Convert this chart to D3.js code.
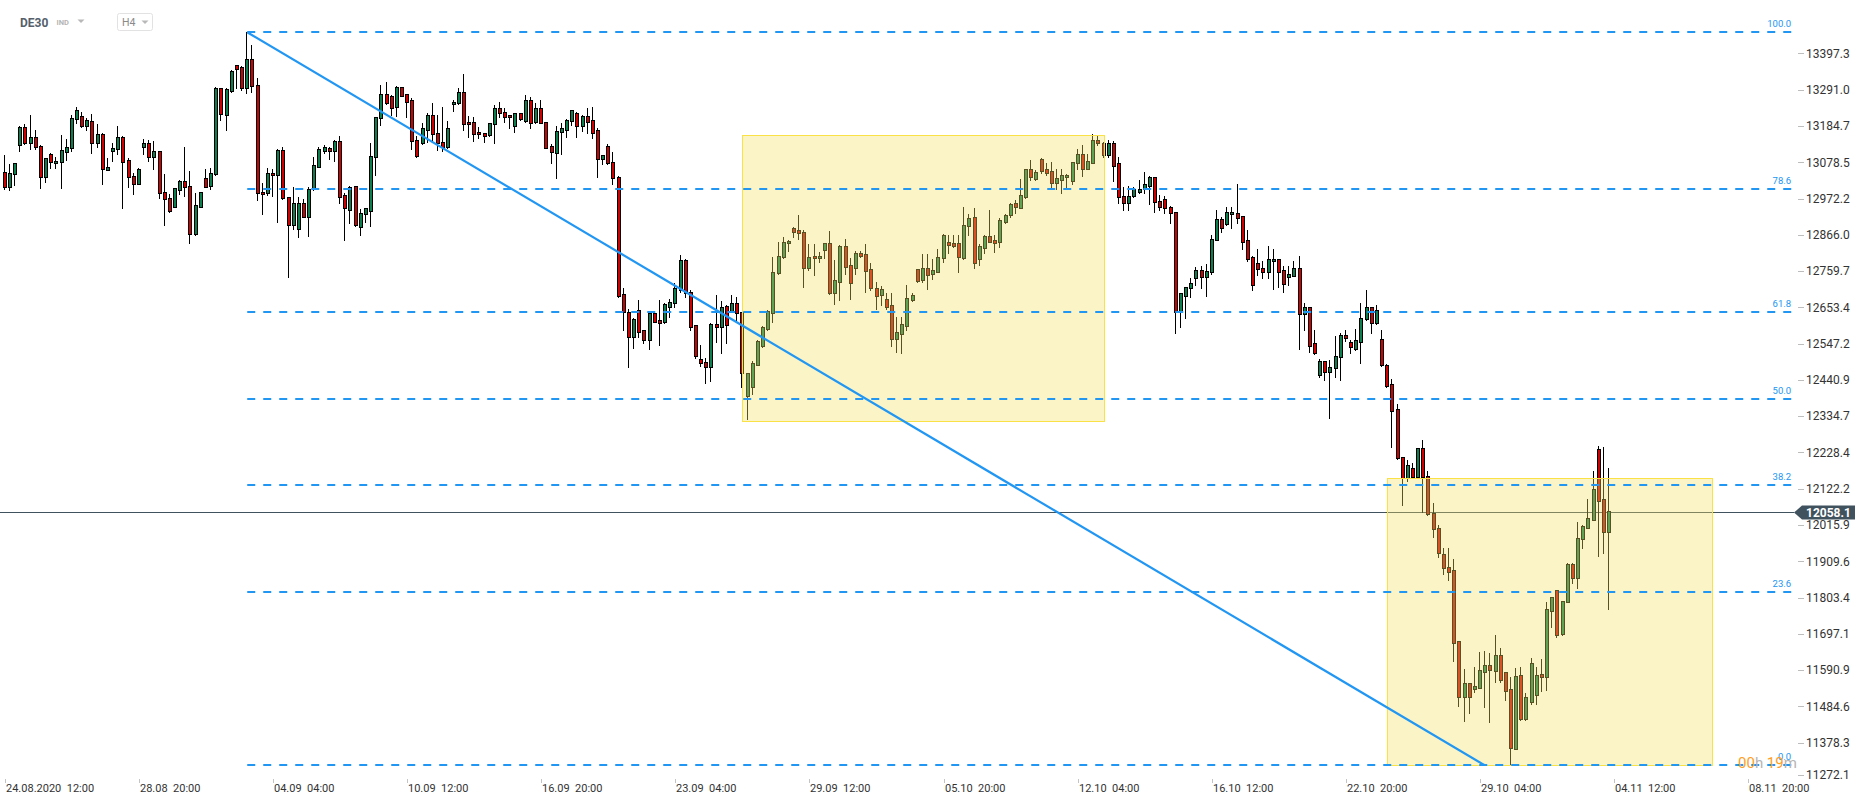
<!DOCTYPE html>
<html><head><meta charset="utf-8">
<script src="https://cdn.jsdelivr.net/npm/d3@7"></script>
<style>
html,body{margin:0;padding:0;background:#fff;}
svg{display:block;font-family:Roboto,"Noto Sans",sans-serif;}
</style></head><body>
<svg id="chart" width="1866" height="805"></svg>
<script>
// ---- DATA (DE30, H4 candles, index 0 = 24.08.2020 12:00) ----
const open = [
13049,13007,13043,13128,13181,13134,13151,13126,13034,13104,
13075,13080,13109,13119,13204,13214,13185,13199,13134,13161,
13057,13112,13116,13153,13085,13038,13016,13124,13135,13095,
13111,12990,12973,12948,12997,13023,13009,12867,12948,13031,
13009,13043,13295,13216,13288,13362,13357,13295,13380,13305,
12990,12987,13046,13040,13114,12976,12896,12882,12958,12919,
12999,13065,13112,13119,13112,13142,12982,12940,13009,12888,
12926,12936,13095,13209,13278,13272,13241,13298,13277,13260,
13145,13134,13173,13217,13163,13137,13124,13248,13253,13283,
13195,13195,13166,13163,13158,13189,13236,13226,13217,13185,
13222,13200,13262,13197,13236,13195,13126,13106,13168,13173,
13200,13224,13184,13214,13202,13173,13087,13126,13078,13034,
12692,12641,12568,12646,12587,12558,12636,12616,12611,12655,
12667,12704,12792,12697,12602,12503,12492,12478,12606,12597,
12657,12644,12665,12639,12395,12420,12486,12540,12589,12636,
12753,12802,12841,12885,12880,12873,12768,12804,12797,12821,
12841,12694,12728,12833,12777,12768,12814,12809,12765,12709,
12691,12678,12660,12560,12575,12600,12675,12765,12733,12768,
12750,12758,12797,12846,12841,12841,12797,12892,12917,12794,
12828,12862,12851,12846,12904,12924,12958,12945,12978,13058,
13029,13088,13058,13053,13017,13026,13034,13024,13075,13102,
13060,13077,13143,13134,13101,13136,13075,12979,12958,12980,
12992,12999,13010,13034,12965,12972,12946,12932,12639,12688,
12711,12738,12763,12743,12758,12852,12911,12897,12926,12929,
12921,12850,12800,12782,12768,12758,12789,12795,12763,12743,
12746,12770,12633,12653,12548,12455,12496,12465,12475,12509,
12572,12551,12531,12553,12618,12653,12608,12562,12486,12428,
12355,12214,12154,12182,12157,12240,12160,12050,12006,11930,
11892,11884,11676,11513,11552,11537,11539,11586,11606,11589,
11635,11584,11535,11360,11576,11447,11498,11518,11579,11572,
11765,11825,11697,11791,11903,11862,11974,12008,12032,12238,
12092,11996];
const high = [
13101,13072,13077,13185,13189,13217,13173,13128,13092,13106,
13095,13158,13146,13217,13241,13226,13207,13220,13189,13163,
13092,13136,13184,13155,13090,13046,13063,13146,13143,13141,
13112,13044,12985,13004,13026,13122,13053,12987,12992,13060,
13062,13298,13297,13295,13348,13363,13360,13459,13422,13324,
13019,13063,13060,13117,13122,12977,13007,12976,12970,13005,
13095,13122,13129,13122,13143,13154,12987,13010,13010,12942,
12944,13134,13212,13304,13312,13275,13302,13300,13279,13268,
13155,13192,13222,13251,13217,13239,13199,13262,13295,13337,
13214,13210,13182,13164,13193,13246,13256,13238,13218,13223,
13223,13275,13270,13253,13262,13197,13132,13184,13192,13206,
13232,13226,13217,13238,13239,13178,13100,13132,13107,13038,
12709,12648,12621,12675,12588,12641,12638,12675,12667,12678,
12726,12807,12794,12704,12602,12543,12504,12607,12690,12673,
12660,12690,12685,12640,12462,12495,12558,12600,12646,12802,
12846,12860,12851,12890,12924,12880,12839,12839,12816,12843,
12877,12792,12836,12853,12799,12819,12819,12839,12782,12728,
12717,12694,12694,12624,12626,12719,12694,12767,12811,12811,
12795,12824,12868,12865,12865,12865,12946,12927,12943,12839,
12864,12938,12865,12914,12927,12960,12968,13028,13060,13085,
13056,13090,13077,13078,13058,13058,13044,13080,13117,13129,
13102,13161,13156,13138,13145,13142,13093,13005,13009,13005,
13026,13049,13039,13035,12982,12979,12950,12934,12695,12713,
12738,12771,12774,12779,12865,12940,12917,12946,12946,13014,
12922,12880,12804,12824,12789,12833,12823,12796,12774,12774,
12789,12804,12665,12655,12587,12502,12497,12499,12570,12577,
12587,12558,12590,12665,12704,12654,12660,12587,12487,12443,
12369,12215,12206,12198,12241,12265,12174,12081,12016,11949,
11948,11915,11677,11594,11553,11601,11643,11647,11642,11694,
11657,11586,11572,11596,11601,11523,11627,11599,11623,11791,
11805,11826,11794,11904,11904,12025,12016,12092,12175,12248,
12245,12182];
const low = [
13000,12998,13013,13112,13132,13116,13116,13004,13021,13063,
13062,13004,13085,13112,13192,13181,13173,13106,13124,13016,
13055,13083,13102,12943,13005,12984,13014,13103,13083,13060,
12973,12896,12933,12946,12984,12979,12843,12865,12946,13006,
12999,13041,13202,13173,13285,13295,13290,13282,13285,12968,
12927,12982,12979,12904,12970,12743,12882,12860,12917,12862,
12997,13064,13106,13087,13083,12960,12851,12899,12891,12865,
12904,12891,13041,13187,13249,13217,13215,13272,13211,13116,
13093,13132,13139,13143,13114,13112,13119,13229,13249,13173,
13153,13142,13148,13137,13156,13134,13212,13197,13180,13168,
13202,13197,13180,13192,13192,13120,13077,13031,13104,13153,
13187,13151,13171,13163,13148,13034,13073,13074,13015,12685,
12587,12478,12533,12568,12550,12530,12610,12543,12608,12626,
12655,12699,12685,12587,12504,12481,12433,12439,12553,12519,
12550,12641,12616,12420,12326,12400,12484,12536,12587,12611,
12751,12799,12819,12858,12855,12714,12763,12748,12787,12797,
12693,12663,12675,12751,12678,12751,12802,12699,12704,12648,
12660,12648,12540,12523,12520,12587,12673,12728,12728,12707,
12735,12757,12787,12813,12831,12758,12796,12865,12770,12777,
12813,12845,12816,12831,12901,12919,12931,12943,12974,13026,
13026,13048,13041,13000,13000,12989,13005,13015,13058,13039,
13058,13076,13129,13093,13095,13024,12958,12938,12940,12977,
12987,12987,12955,12933,12940,12929,12901,12579,12597,12623,
12685,12719,12709,12688,12751,12850,12875,12894,12887,12899,
12824,12790,12704,12748,12738,12738,12707,12714,12699,12719,
12745,12531,12587,12523,12517,12450,12440,12328,12450,12440,
12556,12519,12528,12491,12616,12579,12604,12481,12421,12245,
12210,12074,12146,12154,12154,12055,12046,11980,11923,11872,
11855,11618,11487,11443,11466,11528,11538,11484,11440,11557,
11557,11503,11313,11359,11446,11445,11492,11493,11531,11533,
11718,11689,11694,11790,11845,11832,11950,12006,12030,11926,
11935,11770];
const close = [
13007,13046,13075,13181,13134,13151,13122,13034,13090,13078,
13082,13114,13122,13207,13231,13185,13202,13134,13161,13060,
13065,13121,13152,13080,13034,13016,13058,13134,13095,13111,
12987,12970,12936,13002,13023,13007,12867,12953,12990,13007,
13046,13295,13219,13292,13345,13352,13295,13380,13302,12987,
12984,13046,13040,13114,12973,12896,12958,12958,12919,12999,
13069,13116,13122,13112,13141,12977,12943,13007,12896,12929,
12943,13098,13210,13278,13251,13238,13298,13273,13256,13142,
13097,13178,13217,13161,13134,13124,13178,13254,13283,13189,
13189,13160,13160,13156,13192,13236,13224,13210,13210,13222,
13204,13262,13194,13236,13194,13121,13109,13171,13178,13202,
13231,13185,13214,13197,13165,13087,13100,13075,13031,12688,
12639,12568,12618,12582,12558,12636,12611,12608,12662,12668,
12709,12792,12694,12597,12512,12490,12478,12606,12597,12655,
12602,12665,12636,12460,12460,12489,12555,12597,12644,12756,
12804,12846,12848,12873,12870,12768,12802,12797,12804,12841,
12694,12733,12833,12772,12724,12814,12805,12761,12709,12688,
12706,12655,12561,12580,12605,12680,12690,12730,12769,12748,
12763,12800,12865,12836,12833,12800,12894,12916,12784,12833,
12863,12846,12843,12909,12924,12955,12946,12982,13058,13034,
13049,13054,13048,13017,13031,13041,13041,13078,13102,13060,
13082,13143,13136,13100,13136,13068,12976,12958,12979,13000,
13000,13015,13034,12961,12948,12943,12929,12641,12694,12712,
12724,12763,12743,12760,12855,12911,12885,12932,12932,12916,
12846,12794,12719,12765,12758,12794,12795,12758,12721,12750,
12770,12633,12653,12541,12519,12496,12465,12478,12512,12572,
12565,12536,12558,12621,12653,12609,12647,12484,12423,12351,
12211,12154,12193,12157,12240,12157,12047,12003,11933,11889,
11879,11671,11513,11552,11513,11544,11591,11606,11591,11635,
11562,11531,11364,11574,11447,11511,11611,11576,11572,11770,
11804,11694,11793,11903,11862,11977,12013,12035,12121,12087,
11996,12058];

const xTickLabels = ["24.08.2020  12:00","28.08  20:00","04.09  04:00","10.09  12:00","16.09  20:00",
  "23.09  04:00","29.09  12:00","05.10  20:00","12.10  04:00","16.10  12:00","22.10  20:00",
  "29.10  04:00","04.11  12:00","08.11  20:00"];
const xTickStep = 26; // candles between time labels
const yTickLabels = ["13397.3","13291.0","13184.7","13078.5","12972.2","12866.0","12759.7","12653.4",
  "12547.2","12440.9","12334.7","12228.4","12122.2","12015.9","11909.6","11803.4","11697.1",
  "11590.9","11484.6","11378.3","11272.1"];
const fibLevels = [0, 23.6, 38.2, 50, 61.8, 78.6, 100];
const fibHigh = 13459, fibLow = 11313;
const fibStartIndex = 47, fibEndIndex = 346.5;
const trendLine = [{i:47, p:13459}, {i:286.8, p:11313}];
const boxes = [{i0:143, i1:213, top:13158, bottom:12321},{i0:268, i1:331, top:12153, bottom:11313}];
const currentPrice = 12058.1;
const symbol = "DE30", symbolType = "IND", timeframe = "H4";
const countdown = [["00","o"],["h","g"],[" 19","o"],["m","g"]];

// ---- CHART ----
const svg = d3.select('#chart');
const x = d3.scaleLinear().domain([0, 338]).range([4.8, 1748.3]);
const y = d3.scaleLinear().domain([fibLow, fibHigh]).range([765, 32.3]);
const GREEN = "#0b7f4e", RED = "#d00000", BLUE = "#2196f3";

// current price line
const py = Math.round(y(currentPrice)) + 1.5;
svg.append('line').attr('x1',0).attr('x2',1794).attr('y1',py).attr('y2',py)
  .attr('stroke','#40525e').attr('stroke-width',1);

// candles
const data = open.map((o,i)=>({i, o, h:high[i], l:low[i], c:close[i]}));
const gC = svg.append('g').attr('shape-rendering','crispEdges');
gC.selectAll('line').data(data).join('line')
  .attr('x1', d=>Math.round(x(d.i))-0.5).attr('x2', d=>Math.round(x(d.i))-0.5)
  .attr('y1', d=>Math.round(y(d.h))).attr('y2', d=>Math.round(y(d.l))+1)
  .attr('stroke','#000').attr('stroke-width',1);
gC.selectAll('rect').data(data).join('rect')
  .attr('x', d=>Math.round(x(d.i))-1.5).attr('width',3)
  .attr('y', d=>Math.round(y(Math.max(d.o,d.c)))+0.5)
  .attr('height', d=>Math.max(1, Math.round(y(Math.min(d.o,d.c))) - Math.round(y(Math.max(d.o,d.c)))))
  .attr('fill', d=>d.c>=d.o?GREEN:RED).attr('stroke','#000').attr('stroke-width',1);

// highlight boxes (semi-transparent, over candles)
svg.append('g').selectAll('rect').data(boxes).join('rect')
  .attr('x', d=>Math.round(x(d.i0))+0.5).attr('y', d=>Math.round(y(d.top))+0.5)
  .attr('width', d=>Math.round(x(d.i1))-Math.round(x(d.i0)))
  .attr('height', d=>Math.round(y(d.bottom))-Math.round(y(d.top)))
  .attr('fill','rgba(240,224,96,0.36)').attr('stroke','#f9e146').attr('stroke-width',1);

// fibonacci levels
const gF = svg.append('g');
const fx0 = x(fibStartIndex), fx1 = x(fibEndIndex);
fibLevels.forEach(l=>{
  const p = fibLow + (fibHigh-fibLow)*l/100;
  const yy = Math.round(y(p));
  gF.append('line').attr('x1',fx0).attr('x2',fx1).attr('y1',yy).attr('y2',yy)
    .attr('stroke',BLUE).attr('stroke-width',2).attr('stroke-dasharray','8,8');
  gF.append('text').attr('x',fx1-1).attr('y',yy-5).attr('text-anchor','end')
    .attr('font-size','9.5px').attr('fill',BLUE).text(l.toFixed(1));
});
// trend line
svg.append('line').attr('x1',x(trendLine[0].i)).attr('y1',y(trendLine[0].p))
  .attr('x2',x(trendLine[1].i)).attr('y2',y(trendLine[1].p))
  .attr('stroke',BLUE).attr('stroke-width',2.2);

// y axis
const gY = svg.append('g');
yTickLabels.forEach(t=>{
  const yy = Math.min(775, y(+t));
  gY.append('line').attr('x1',1798).attr('x2',1804).attr('y1',Math.round(yy)+0.5).attr('y2',Math.round(yy)+0.5)
    .attr('stroke','#bdbdbd').attr('stroke-width',1);
  gY.append('text').attr('x',1806).attr('y',yy).attr('dy','0.36em')
    .attr('font-size','12px').attr('fill','#333').text(t);
});
// x axis
const gX = svg.append('g');
xTickLabels.forEach((t,k)=>{
  const xx = Math.round(x(k*xTickStep))+0.5;
  gX.append('line').attr('x1',xx).attr('x2',xx).attr('y1',779).attr('y2',783)
    .attr('stroke','#c4c4c4').attr('stroke-width',1);
  gX.append('text').attr('x',xx+0.5).attr('y',792).attr('font-size','11px')
    .attr('fill','#333').attr('xml:space','preserve').style('white-space','pre').text(t);
});

// current price label
const ly = y(currentPrice)+2;
svg.append('path').attr('d',`M1794,${ly} L1802,${ly-7} L1855,${ly-7} L1855,${ly+7} L1802,${ly+7} Z`)
  .attr('fill','#40525e');
svg.append('text').attr('x',1806).attr('y',ly).attr('dy','0.36em').attr('font-size','12px')
  .attr('font-weight','bold').attr('fill','#fff').text(currentPrice.toFixed(1));

// countdown
const cd = svg.append('text').attr('x',1738).attr('y',768).attr('font-size','15px').style('white-space','pre');
countdown.forEach(([s,c])=>cd.append('tspan').attr('fill', c==='o'?'#ff9d1e':'#b5b5b5').text(s));

// header
svg.append('text').attr('x',20).attr('y',26.5).attr('font-size','12px').attr('font-weight','bold')
  .attr('fill','#55606b').text(symbol);
svg.append('text').attr('x',56.5).attr('y',25).attr('font-size','7.5px').attr('font-weight','bold')
  .attr('fill','#b4b4b4').text(symbolType);
svg.append('path').attr('d','M77.5,19.5 L84.5,19.5 L81,23 Z').attr('fill','#b8b8b8');
svg.append('rect').attr('x',117.5).attr('y',13.5).attr('width',35).attr('height',17).attr('rx',2)
  .attr('fill','#fff').attr('stroke','#e2e2e2');
svg.append('text').attr('x',122).attr('y',26).attr('font-size','10.5px').attr('fill','#8a8a8a').text(timeframe);
svg.append('path').attr('d','M141.5,20.5 L148.5,20.5 L145,24 Z').attr('fill','#b8b8b8');
</script>
</body></html>
